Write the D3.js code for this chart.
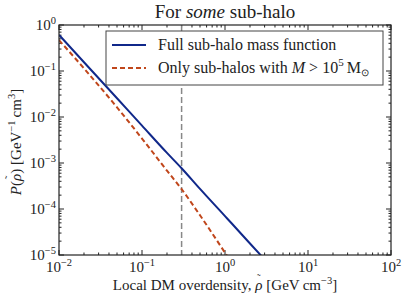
<!DOCTYPE html>
<html><head><meta charset="utf-8">
<script src="https://cdn.jsdelivr.net/npm/d3@7"></script>
<style>body{margin:0;background:#fff}svg{display:block}</style>
</head><body>
<script>
const xVals = [0.01, 0.02, 0.05, 0.1, 0.2, 0.3, 0.5, 1, 1.2, 2, 3];
const fullMF = [0.61, 0.155, 0.0255, 6.5e-3, 1.66e-3, 7.7e-4, 2.73e-4, 7.0e-5, 4.9e-5, 1.78e-5, 8.0e-6];
const cutMF  = [0.47, 0.114, 0.0162, 3.4e-3, 6.8e-4, 2.7e-4, 7.3e-5, 1.12e-5, 6.8e-6, 1.5e-6, 3e-7];
const vLineX = 0.3;
const xTicks = [1e-2, 1e-1, 1e0, 1e1, 1e2];
const yTicks = [1e-5, 1e-4, 1e-3, 1e-2, 1e-1, 1e0];
const xTickExp = ["\u22122", "\u22121", "0", "1", "2"];
const yTickExp = ["\u22125", "\u22124", "\u22123", "\u22122", "\u22121", "0"];

const FONT = "Liberation Serif";
const W = 407, H = 299;
const m = {l: 59, r: 16, t: 25, b: 44};
const pw = W - m.l - m.r, ph = H - m.t - m.b;
const svg = d3.select("body").append("svg").attr("width", W).attr("height", H);
const x = d3.scaleLog().domain([1e-2, 1e2]).range([m.l, m.l + pw]);
const y = d3.scaleLog().domain([1e-5, 1]).range([m.t + ph, m.t]);
function T(sel) { return sel.append("text").attr("font-family", FONT).attr("fill", "#222"); }
function S(t) { return t.append("tspan").attr("font-family", FONT); }

svg.append("defs").append("clipPath").attr("id", "clip")
  .append("rect").attr("x", m.l).attr("y", m.t).attr("width", pw).attr("height", ph);

// minor ticks
const minorX = [], minorY = [];
for (let e = -2; e < 2; e++) for (let k = 2; k < 10; k++) minorX.push(k * Math.pow(10, e));
for (let e = -5; e < 0; e++) for (let k = 2; k < 10; k++) minorY.push(k * Math.pow(10, e));
const tk = svg.append("g").attr("stroke", "#222").attr("stroke-width", 1);
const majL = 5, minL = 2.5;
xTicks.forEach(v => {
  tk.append("line").attr("x1", x(v)).attr("x2", x(v)).attr("y1", m.t + ph).attr("y2", m.t + ph - majL);
  tk.append("line").attr("x1", x(v)).attr("x2", x(v)).attr("y1", m.t).attr("y2", m.t + majL);
});
minorX.forEach(v => {
  tk.append("line").attr("x1", x(v)).attr("x2", x(v)).attr("y1", m.t + ph).attr("y2", m.t + ph - minL);
  tk.append("line").attr("x1", x(v)).attr("x2", x(v)).attr("y1", m.t).attr("y2", m.t + minL);
});
yTicks.forEach(v => {
  tk.append("line").attr("y1", y(v)).attr("y2", y(v)).attr("x1", m.l).attr("x2", m.l + majL);
  tk.append("line").attr("y1", y(v)).attr("y2", y(v)).attr("x1", m.l + pw).attr("x2", m.l + pw - majL);
});
minorY.forEach(v => {
  tk.append("line").attr("y1", y(v)).attr("y2", y(v)).attr("x1", m.l).attr("x2", m.l + minL);
  tk.append("line").attr("y1", y(v)).attr("y2", y(v)).attr("x1", m.l + pw).attr("x2", m.l + pw - minL);
});

// vertical dashed line
svg.append("line").attr("x1", x(vLineX)).attr("x2", x(vLineX)).attr("y1", m.t).attr("y2", m.t + ph)
  .attr("stroke", "#888").attr("stroke-width", 1.5).attr("stroke-dasharray", "6,3");

const line = d3.line().x((d, i) => x(xVals[i])).y(d => y(d)).curve(d3.curveMonotoneX);
const g = svg.append("g").attr("clip-path", "url(#clip)");
g.append("path").datum(fullMF).attr("d", line).attr("fill", "none")
  .attr("stroke", "#10288a").attr("stroke-width", 2);
g.append("path").datum(cutMF).attr("d", line).attr("fill", "none")
  .attr("stroke", "#c0461b").attr("stroke-width", 2).attr("stroke-dasharray", "5,3");

// frame
svg.append("rect").attr("x", m.l).attr("y", m.t).attr("width", pw).attr("height", ph)
  .attr("fill", "none").attr("stroke", "#222").attr("stroke-width", 1.2);

// tick labels
const fs = 15;
xTicks.forEach((v, i) => {
  const t = T(svg).attr("x", x(v)).attr("y", m.t + ph + 17).attr("text-anchor", "middle").attr("font-size", fs);
  S(t).text("10");
  S(t).attr("font-size", 10.5).attr("dy", -6).text(xTickExp[i]);
});
yTicks.forEach((v, i) => {
  const t = T(svg).attr("x", m.l - 3).attr("y", y(v) + 5).attr("text-anchor", "end").attr("font-size", fs);
  S(t).text("10");
  S(t).attr("font-size", 10.5).attr("dy", -6).text(yTickExp[i]);
});

// title
const tt = T(svg).attr("x", m.l + pw / 2).attr("y", 18).attr("text-anchor", "middle").attr("font-size", 19);
S(tt).text("For ");
S(tt).attr("font-style", "italic").text("some");
S(tt).text(" sub-halo");

// x label
const xl = T(svg).attr("x", m.l + pw / 2).attr("y", 290).attr("text-anchor", "middle").attr("font-size", 15);
S(xl).text("Local DM overdensity, ");
S(xl).attr("font-style", "italic").text("\u03C1");
S(xl).attr("dx", -5.5).attr("dy", -8).attr("font-size", 11).text("\u02DC");
S(xl).attr("dx", 2).attr("dy", 8).text(" [GeV\u2009cm");
S(xl).attr("font-size", 10.5).attr("dy", -6).text("\u22123");
S(xl).attr("dy", 6).text("]");

// y label
const yl = T(svg).attr("transform", `translate(21,${m.t + ph / 2 + 2}) rotate(-90)`).attr("text-anchor", "middle").attr("font-size", 15);
S(yl).attr("font-style", "italic").text("P");
S(yl).text("(");
S(yl).attr("font-style", "italic").text("\u03C1");
S(yl).attr("dx", -5.5).attr("dy", -8).attr("font-size", 11).text("\u02DC");
S(yl).attr("dx", 2).attr("dy", 8).text(") [GeV");
S(yl).attr("font-size", 10.5).attr("dy", -6).text("\u22121");
S(yl).attr("dy", 6).text("\u2009cm");
S(yl).attr("font-size", 10.5).attr("dy", -6).text("3");
S(yl).attr("dy", 6).text("]");

// legend
const lg = svg.append("g");
lg.append("rect").attr("x", 106).attr("y", 31).attr("width", 277).attr("height", 54)
  .attr("fill", "#fff").attr("stroke", "#444").attr("stroke-width", 1);
lg.append("line").attr("x1", 112).attr("x2", 146).attr("y1", 45).attr("y2", 45).attr("stroke", "#10288a").attr("stroke-width", 2);
lg.append("line").attr("x1", 112).attr("x2", 146).attr("y1", 68).attr("y2", 68).attr("stroke", "#c0461b").attr("stroke-width", 2).attr("stroke-dasharray", "5,3");
T(lg).attr("x", 158).attr("y", 50).attr("font-size", 16).text("Full sub-halo mass function");
const l2 = T(lg).attr("x", 158).attr("y", 73).attr("font-size", 16);
S(l2).text("Only sub-halos with ");
S(l2).attr("font-style", "italic").text("M");
S(l2).text(" > 10");
S(l2).attr("font-size", 11).attr("dy", -7).text("5");
S(l2).attr("dy", 7).text("\u2009M");
S(l2).attr("font-size", 10).attr("dy", 3).text("\u2299");
</script>
</body></html>
